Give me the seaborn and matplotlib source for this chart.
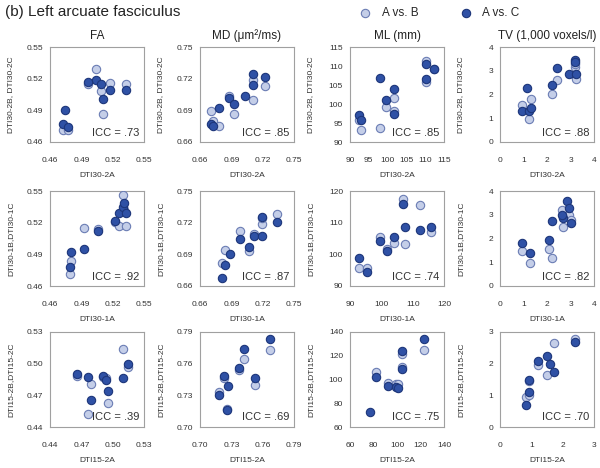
import numpy as np
import pandas as pd
import matplotlib
matplotlib.use('Agg')
import matplotlib.pyplot as plt
import seaborn as sns

sns.set_style('white')
plt.rcParams['font.family'] = ['Liberation Sans', 'DejaVu Sans']

nan = np.nan

# --- data (x = session A, yb = A vs. B, yc = A vs. C) ---
# row 1: DTI30-2
fa1_x = [0.504, 0.496, 0.509, 0.517, 0.533, 0.511, 0.474, 0.472, 0.477]
fa1_yb = [0.529, 0.515, 0.508, 0.516, 0.515, 0.487, nan, 0.471, 0.471]
fa1_yc = [0.519, 0.517, 0.515, 0.509, 0.509, 0.501, 0.490, 0.477, 0.474]

md1_x = [0.711, 0.711, 0.722, 0.703, 0.688, 0.693, 0.671, 0.672, 0.678]
md1_yb = [0.719, 0.700, 0.713, nan, 0.704, 0.687, 0.689, 0.680, 0.675]
md1_yc = [0.724, 0.714, 0.7215, 0.704, 0.702, 0.696, 0.677, 0.675, 0.692]

ml1_x = [92.3, 92.9, 98.1, 99.7, 101.8, 101.8, 110.2, 110.2, 112.4]
ml1_yb = [95.7, 93.1, 93.7, 99.2, 101.7, 98.2, 111.2, 105.8, 109.3]
ml1_yc = [97.2, 95.9, 106.8, 101.1, 104.0, 97.5, 110.4, 106.7, 109.3]

tv1_x = [0.94, 1.22, 1.31, 1.15, 2.22, 2.44, 2.92, 3.18, 3.22, 3.18]
tv1_yb = [1.57, 0.96, 1.79, nan, 2.03, 2.60, nan, 3.14, 2.67, 3.30]
tv1_yc = [1.29, 1.29, 1.43, 2.29, 2.39, 3.10, 2.86, 3.46, 2.86, 3.35]

# row 2: DTI30-1
fa2_x = [0.480, 0.479, 0.493, 0.506, 0.522, 0.526, 0.530, 0.533, 0.531]
fa2_yb = [0.484, 0.471, 0.515, 0.514, 0.521, 0.517, 0.546, 0.517, 0.532]
fa2_yc = [0.492, 0.478, 0.495, 0.512, 0.522, 0.529, 0.535, 0.529, 0.539]

md2_x = [0.681, 0.684, 0.689, 0.698, 0.707, 0.712, 0.719, 0.719, 0.734]
md2_yb = [0.682, 0.694, nan, 0.712, 0.693, 0.709, 0.719, 0.724, 0.728]
md2_yc = [0.668, 0.680, 0.690, 0.705, 0.697, 0.707, 0.707, 0.725, 0.721]

ml2_x = [92.8, 95.3, 99.6, 101.8, 104.1, 106.9, 107.5, 112.4, 115.8]
ml2_yb = [95.6, 95.6, 105.6, 101.7, 103.5, 117.6, 103.2, 115.7, 107.0]
ml2_yc = [98.8, 94.5, 104.1, 101.1, 105.4, 116.0, 108.5, 107.8, 108.5]

tv2_x = [0.95, 1.28, 2.07, 2.21, 2.69, 2.84, 2.94, 3.01, 2.65]
tv2_yb = [1.46, 0.96, 1.57, 1.17, 2.49, 3.00, 3.00, 2.76, 3.21]
tv2_yc = [1.79, 1.41, 1.93, 2.74, 2.86, 3.60, 3.29, 2.67, 3.00]

# row 3: DTI15-2
fa3_x = [0.466, 0.476, 0.479, 0.491, 0.494, 0.496, 0.510, 0.515]
fa3_yb = [0.488, 0.452, 0.481, 0.487, 0.486, 0.463, 0.514, 0.497]
fa3_yc = [0.490, 0.487, 0.466, 0.488, 0.485, 0.474, 0.486, 0.500]

md3_x = [0.718, 0.723, 0.727, 0.726, 0.737, 0.742, 0.753, 0.767]
md3_yb = [0.733, 0.746, nan, 0.717, 0.754, 0.764, 0.740, 0.773]
md3_yc = [0.730, 0.748, 0.739, 0.716, 0.756, 0.774, 0.746, 0.783]

ml3_x = [77, 82, 92, 99, 101, 104, 104, 123]
ml3_yb = [nan, 106.6, 97.1, 96.4, 96.5, 110.6, 121.4, 124.9]
ml3_yc = [72.9, 102.0, 94.9, 93.4, 92.5, 108.6, 124.3, 134.3]

tv3_x = [0.84, 0.92, 0.92, 1.20, 1.50, 1.58, 1.72, 2.38]
tv3_yb = [0.95, 1.00, 1.45, 1.96, 1.65, nan, 2.65, 2.79]
tv3_yc = [0.71, 1.11, 1.48, 2.07, 2.23, 1.99, 1.73, 2.68]

# labels / ticks
col_titles = ['FA', 'MD (\u03bcm\u00b2/ms)', 'ML (mm)', 'TV (1,000 voxels/l)']
row_xlabels = ['DTI30-2A', 'DTI30-1A', 'DTI15-2A']
row_ylabels = ['DTI30-2B, DTI30-2C', 'DTI30-1B,DTI30-1C', 'DTI15-2B,DTI15-2C']
icc_values = [['.73', '.85', '.85', '.88'],
              ['.92', '.87', '.74', '.82'],
              ['.39', '.69', '.75', '.70']]
fa_ticks_a = [0.46, 0.49, 0.52, 0.55]
fa_ticks_b = [0.44, 0.47, 0.50, 0.53]
md_ticks_a = [0.66, 0.69, 0.72, 0.75]
md_ticks_b = [0.70, 0.73, 0.76, 0.79]
ml_ticks_1 = [90, 95, 100, 105, 110, 115]
ml_ticks_2 = [90, 100, 110, 120]
ml_ticks_3 = [60, 80, 100, 120, 140]
tv_ticks_a = [0, 1, 2, 3, 4]
tv_ticks_b = [0, 1, 2, 3]

panels = [
    [(fa1_x, fa1_yb, fa1_yc, fa_ticks_a, '%.2f'), (md1_x, md1_yb, md1_yc, md_ticks_a, '%.2f'),
     (ml1_x, ml1_yb, ml1_yc, ml_ticks_1, '%d'), (tv1_x, tv1_yb, tv1_yc, tv_ticks_a, '%d')],
    [(fa2_x, fa2_yb, fa2_yc, fa_ticks_a, '%.2f'), (md2_x, md2_yb, md2_yc, md_ticks_a, '%.2f'),
     (ml2_x, ml2_yb, ml2_yc, ml_ticks_2, '%d'), (tv2_x, tv2_yb, tv2_yc, tv_ticks_a, '%d')],
    [(fa3_x, fa3_yb, fa3_yc, fa_ticks_b, '%.2f'), (md3_x, md3_yb, md3_yc, md_ticks_b, '%.2f'),
     (ml3_x, ml3_yb, ml3_yc, ml_ticks_3, '%d'), (tv3_x, tv3_yb, tv3_yc, tv_ticks_b, '%d')],
]

light_fill, light_edge = '#c4cee8', '#6b7db4'
dark_fill, dark_edge = '#2f51a5', '#1d367a'

W, H = 600, 468
fig = plt.figure(figsize=(6, 4.68), dpi=100)

col_left = [50, 200, 350, 500]
row_top = [47, 191, 332]
bw, bh = 94, 95

for r in range(3):
    for c in range(4):
        x, yb, yc, ticks, fmt = panels[r][c]
        ax = fig.add_axes([col_left[c] / W, 1 - (row_top[r] + bh) / H, bw / W, bh / H])
        df = pd.DataFrame({'x': x, 'yb': yb, 'yc': yc})
        sns.scatterplot(data=df, x='x', y='yb', ax=ax, color=light_fill, edgecolor=light_edge,
                        linewidth=0.8, s=36, label='A vs. B', legend=False, zorder=3)
        sns.scatterplot(data=df, x='x', y='yc', ax=ax, color=dark_fill, edgecolor=dark_edge,
                        linewidth=0.8, s=36, label='A vs. C', legend=False, zorder=4)
        ax.set_xlim(ticks[0], ticks[-1])
        ax.set_ylim(ticks[0], ticks[-1])
        ax.set_xticks(ticks)
        ax.set_yticks(ticks)
        ax.set_xticklabels([fmt % t for t in ticks])
        ax.set_yticklabels([fmt % t for t in ticks])
        ax.tick_params(length=0, labelsize=6, colors='#333333')
        ax.tick_params(axis='x', pad=11)
        ax.tick_params(axis='y', pad=5)
        for sp in ax.spines.values():
            sp.set_color('#a0a0a0')
            sp.set_linewidth(0.8)
        ax.set_xlabel(row_xlabels[r], fontsize=6, color='#333333')
        ax.set_ylabel(row_ylabels[r], fontsize=6, color='#333333')
        ax.xaxis.set_label_coords(0.5, -0.32)
        ax.yaxis.set_label_coords(-0.38, 0.5)
        ax.text(0.95, 0.1, 'ICC = ' + icc_values[r][c], transform=ax.transAxes,
                ha='right', va='center', fontsize=8, color='#333333')
        if r == 0:
            ax.set_title(col_titles[c], fontsize=8.5, pad=6, color='#222222')
        if r == 0 and c == 0:
            handles, labels = ax.get_legend_handles_labels()

fig.text(5 / W, 1 - 12 / H, '(b) Left arcuate fasciculus', fontsize=11, va='center', ha='left',
         color='#222222')
fig.legend(handles, labels, loc='center left', bbox_to_anchor=(343 / W, 1 - 13 / H), ncol=2,
           frameon=False, fontsize=8.5, handletextpad=0.4, columnspacing=3.0, markerscale=1.0)

fig.savefig('out.png', dpi=100)
